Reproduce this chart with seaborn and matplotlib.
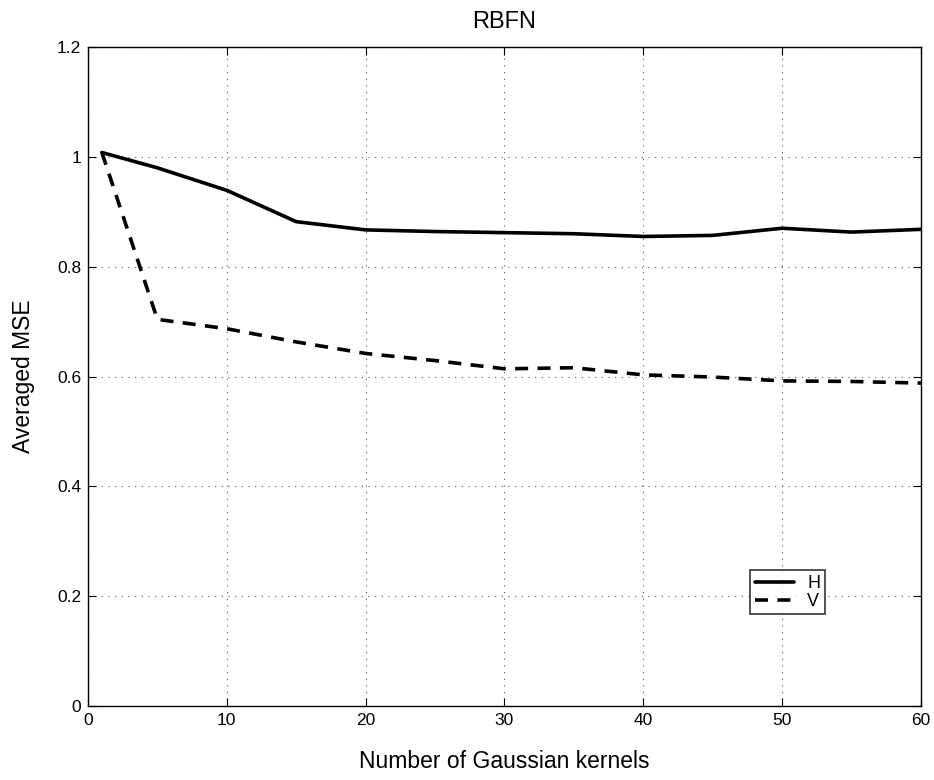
import matplotlib
matplotlib.use("Agg")
import matplotlib.pyplot as plt
import seaborn as sns
import pandas as pd

kernels = [1, 5, 10, 15, 20, 25, 30, 35, 40, 45, 50, 55, 60]
mse_h = [1.008, 0.980, 0.939, 0.882, 0.867, 0.864, 0.862, 0.860, 0.855, 0.857, 0.870, 0.863, 0.868]
mse_v = [1.008, 0.704, 0.687, 0.663, 0.642, 0.629, 0.614, 0.616, 0.603, 0.599, 0.592, 0.591, 0.588]
x_ticks = [0, 10, 20, 30, 40, 50, 60]
y_ticks = [0, 0.2, 0.4, 0.6, 0.8, 1.0, 1.2]
y_labels = ["0", "0.2", "0.4", "0.6", "0.8", "1", "1.2"]

sns.set_theme(style="white")
plt.rcParams["font.family"] = ["Liberation Sans", "DejaVu Sans"]
plt.rcParams["text.color"] = "black"
plt.rcParams["axes.labelcolor"] = "black"

fig = plt.figure(figsize=(9.34, 7.8), dpi=100)
ax = fig.add_axes([0.0942, 0.0949, 0.8918, 0.8448])

df_h = pd.DataFrame({"k": kernels, "mse": mse_h})
df_v = pd.DataFrame({"k": kernels, "mse": mse_v})
sns.lineplot(data=df_h, x="k", y="mse", ax=ax, color="black", linewidth=2.6, label="H")
sns.lineplot(data=df_v, x="k", y="mse", ax=ax, color="black", linewidth=2.6,
             linestyle=(0, (3.6, 2.6)), dash_capstyle="butt", label="V")

ax.set_xlim(0, 60)
ax.set_ylim(0, 1.2)
ax.set_xticks(x_ticks)
ax.set_yticks(y_ticks)
ax.set_yticklabels(y_labels)
ax.grid(True, linestyle=(0, (1, 5)), color="#555555", linewidth=0.8)
for s in ax.spines.values():
    s.set_visible(True)
    s.set_color("black")
    s.set_linewidth(1.0)
ax.tick_params(direction="in", length=6, width=0.8, colors="black", labelsize=12.5,
               top=True, right=True, bottom=True, left=True, pad=5)
ax.set_xlabel("Number of Gaussian kernels", fontsize=16.5, labelpad=16, color="black")
ax.set_ylabel("Averaged MSE", fontsize=16.5, labelpad=16, color="black")
ax.set_title("RBFN", fontsize=17, pad=14, color="black")

leg = ax.legend(loc="lower left", bbox_to_anchor=(0.795, 0.139), fontsize=13, frameon=True,
                fancybox=False, edgecolor="black", handlelength=2.2, borderpad=0.25,
                labelspacing=0.05, handletextpad=0.7, borderaxespad=0)
leg.get_frame().set_linewidth(1.2)
for t in leg.get_texts():
    t.set_color("black")

fig.savefig("out.png", dpi=100)
